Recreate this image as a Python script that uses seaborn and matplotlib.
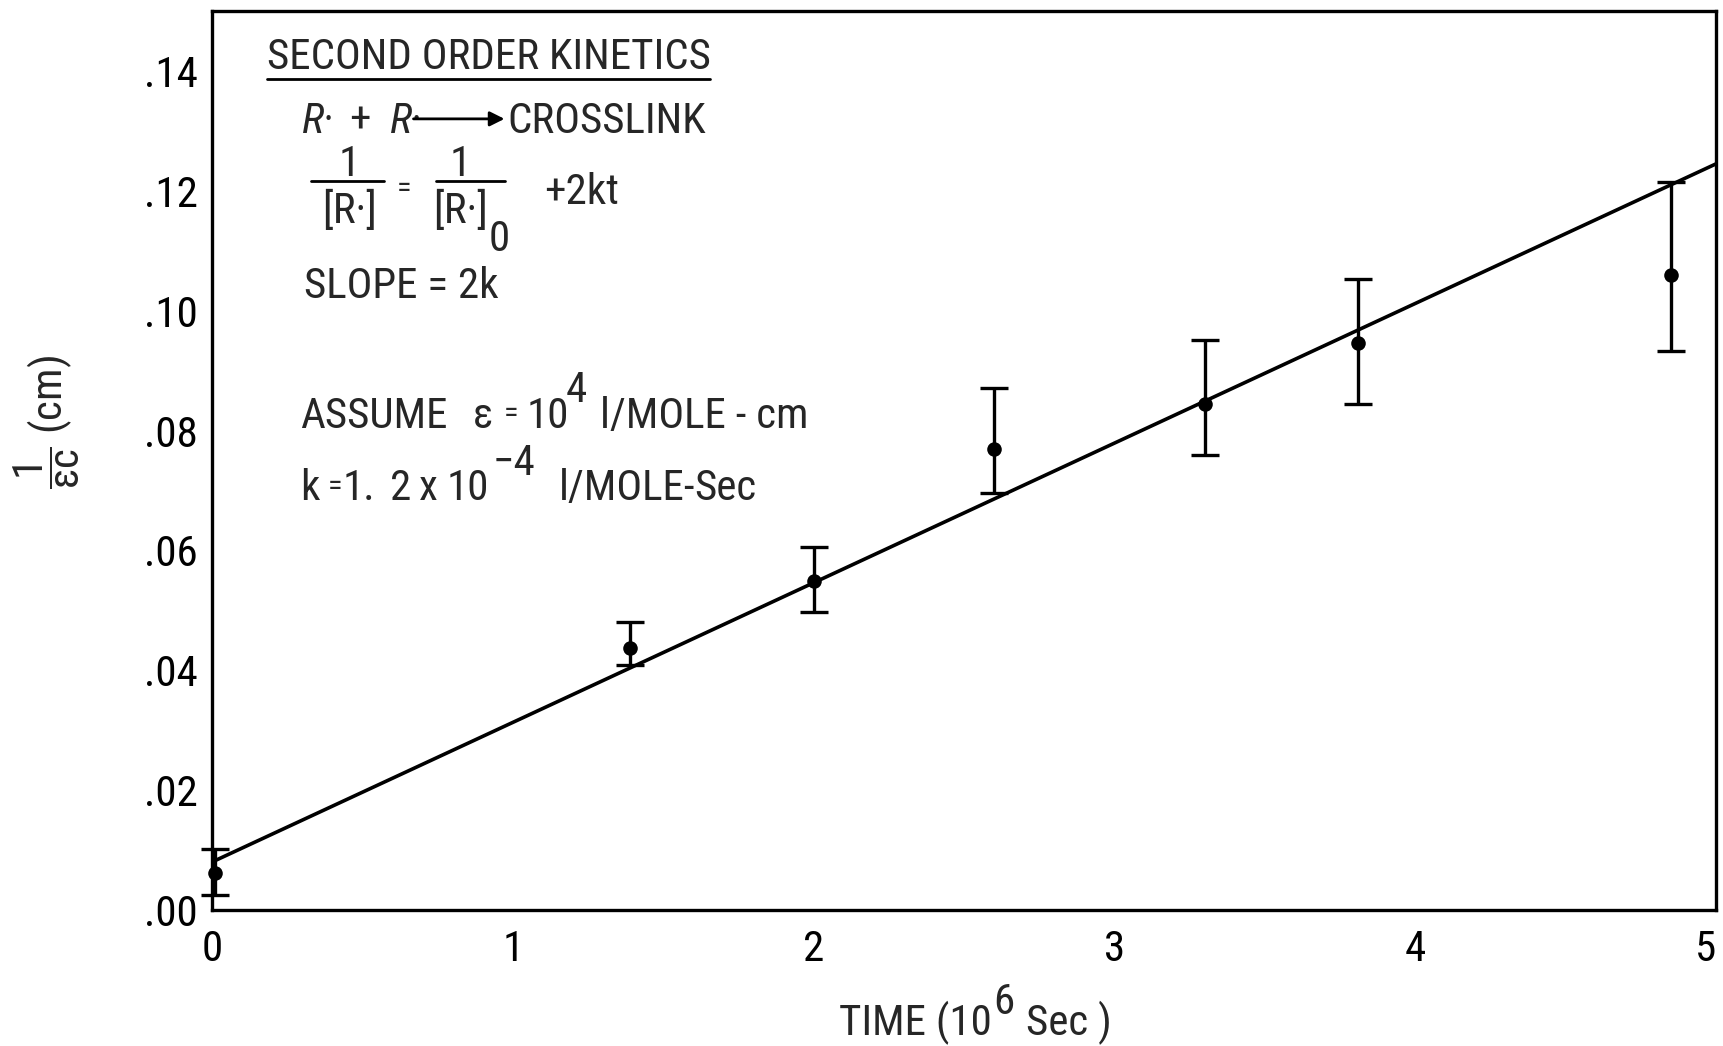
import matplotlib
matplotlib.use("Agg")
import matplotlib.pyplot as plt
from matplotlib import font_manager
import numpy as np
import pandas as pd
import seaborn as sns

# Measured 1/(eps*c) against storage time
time_1e6_s = [0.01, 1.39, 2.0, 2.6, 3.3, 3.81, 4.85]
inv_eps_c = [0.0062, 0.0437, 0.0549, 0.0770, 0.0844, 0.0946, 0.1060]
bar_high = [0.0101, 0.0481, 0.0606, 0.0871, 0.0951, 0.1052, 0.1215]
bar_low = [0.0025, 0.0408, 0.0498, 0.0695, 0.0759, 0.0844, 0.0933]

# Second-order line: 1/[R.] = 1/[R.]0 + 2kt
fit_intercept = 0.008
fit_slope = 0.0233
fit_span = [0.0, 5.0]

x_ticks = [0, 1, 2, 3, 4, 5]
y_ticks = [0.00, 0.02, 0.04, 0.06, 0.08, 0.10, 0.12, 0.14]

sns.set_theme(style="white")


def pick_narrow_font():
    """Return (family, stretch) of a condensed sans face if one is installed."""
    entries = font_manager.fontManager.ttflist
    for fam in ["Liberation Sans Narrow", "Roboto Condensed", "Open Sans Condensed",
                "Noto Sans Condensed", "DejaVu Sans Condensed"]:
        if any(e.name == fam for e in entries):
            return fam, "normal"
    for fam in ["DejaVu Sans", "Noto Sans", "Roboto", "Open Sans"]:
        for e in entries:
            if e.name == fam and str(e.stretch) in ("condensed", "semi-condensed",
                                                     "extra-condensed"):
                return fam, str(e.stretch)
    return None, "normal"


narrow, stretch = pick_narrow_font()
main_font = narrow if narrow else "DejaVu Sans"
plt.rcParams["font.family"] = [main_font, "DejaVu Sans"]
plt.rcParams["font.stretch"] = stretch
plt.rcParams["mathtext.fontset"] = "custom"
plt.rcParams["mathtext.rm"] = main_font
plt.rcParams["mathtext.it"] = main_font + ":italic"
plt.rcParams["mathtext.sf"] = main_font

INK = "black"
FS_TICK = 28 if narrow is None else 31
FS = 25 if narrow is None else 31
FS_EQ = FS * 0.7

fig = plt.figure(figsize=(17.23, 10.46), dpi=100)
fig.patch.set_facecolor("white")
ax = fig.add_axes([0.123, 0.130, 0.873, 0.8595])
ax.set_facecolor("white")

df = pd.DataFrame({"t": time_1e6_s, "y": inv_eps_c, "hi": bar_high, "lo": bar_low})
fit = pd.DataFrame({"t": fit_span})
fit["y"] = fit_intercept + fit_slope * fit["t"]

sns.lineplot(data=fit, x="t", y="y", ax=ax, color=INK, linewidth=2.6)
yerr = np.vstack([df["y"] - df["lo"], df["hi"] - df["y"]])
eb = ax.errorbar(df["t"], df["y"], yerr=yerr, fmt="none", ecolor=INK,
                 elinewidth=2.4, capsize=10, capthick=2.4, zorder=3)
for art in eb.lines[1] + eb.lines[2]:
    art.set_clip_on(False)
sns.scatterplot(data=df, x="t", y="y", ax=ax, color=INK, s=110,
                edgecolor=INK, linewidth=0, zorder=4, clip_on=False)

ax.set_xlim(0, 5)
ax.set_ylim(0, 0.15)
ax.set_xticks(x_ticks)
ax.set_xticklabels([str(v) for v in x_ticks])
ax.set_yticks(y_ticks)
ax.set_yticklabels([f"{v:.2f}".lstrip("0") for v in y_ticks])
ax.tick_params(axis="both", direction="in", length=16, width=2.2, colors=INK,
               labelsize=FS_TICK)
ax.tick_params(axis="y", pad=10)
ax.tick_params(axis="x", pad=14)
ax.get_xticklabels()[-1].set_horizontalalignment("right")
for sp in ax.spines.values():
    sp.set_visible(True)
    sp.set_color(INK)
    sp.set_linewidth(2.4)

ax.set_xlabel("")
ax.set_ylabel("")

# x-axis title with a full-size raised exponent, pieces laid end to end
xl_main = fig.text(0.487, 0.010, "TIME (10", ha="left", va="baseline", fontsize=FS)
xl_exp = ax.annotate("6", xy=(1, 0), xycoords=xl_main, xytext=(1, 16),
                     textcoords="offset points", ha="left", va="bottom",
                     fontsize=FS, annotation_clip=False)
ax.annotate("Sec )", xy=(1, 0), xycoords=(xl_exp, xl_main), xytext=(8, 0),
            textcoords="offset points", ha="left", va="bottom",
            fontsize=FS, annotation_clip=False)

fig.text(0.027, 0.597, r"$\dfrac{1}{\mathrm{\varepsilon c}}$ (cm)", rotation=90,
         ha="center", va="center", fontsize=FS)

T = ax.transAxes


def put(x, y, s, size=FS, ha="left", **kw):
    return ax.text(x, y, s, transform=T, fontsize=size, ha=ha, va="baseline", **kw)


# Kinetics notes in the upper-left corner
put(0.0365, 0.9352, "SECOND ORDER KINETICS")
ax.plot([0.0365, 0.331], [0.924, 0.924], transform=T, color=INK, linewidth=2.0)

put(0.060, 0.8643, "R·", style="italic")
put(0.0913, 0.8643, "+")
put(0.1183, 0.8643, "R·", style="italic")
ax.annotate("", xy=(0.1945, 0.880), xytext=(0.134, 0.880), xycoords=T,
            arrowprops=dict(arrowstyle="-|>", color=INK, lw=2.0,
                            mutation_scale=22, shrinkA=0, shrinkB=0))
put(0.1965, 0.8643, "CROSSLINK")

put(0.0913, 0.8166, "1", ha="center")
ax.plot([0.0657, 0.1147], [0.8105, 0.8105], transform=T, color=INK, linewidth=2.0)
put(0.0913, 0.764, "[R·]", ha="center")
ax.text(0.128, 0.802, "=", transform=T, fontsize=FS_EQ, ha="center", va="center")
put(0.165, 0.8166, "1", ha="center")
ax.plot([0.149, 0.195], [0.8105, 0.8105], transform=T, color=INK, linewidth=2.0)
put(0.165, 0.764, "[R·]", ha="center")
put(0.191, 0.7335, "0", ha="center")
put(0.221, 0.7848, "+2kt")

put(0.0614, 0.6809, "SLOPE = 2k")

put(0.0584, 0.5367, "ASSUME")
put(0.1738, 0.5367, "ε")
put(0.1943, 0.5427, "=", size=FS_EQ)
put(0.2090, 0.5367, "10")
put(0.2355, 0.5650, "4")
put(0.2579, 0.5367, "l/MOLE - cm")

put(0.0584, 0.4560, "k")
put(0.0767, 0.4620, "=", size=FS_EQ)
put(0.0869, 0.4560, "1.")
put(0.1183, 0.4560, "2")
put(0.1373, 0.4560, "x")
put(0.1563, 0.4560, "10")
put(0.1863, 0.4843, "\u22124")
put(0.2308, 0.4560, "l/MOLE-")
put(0.3207, 0.4560, "Sec")

fig.savefig("out.png", dpi=100, facecolor="white")
